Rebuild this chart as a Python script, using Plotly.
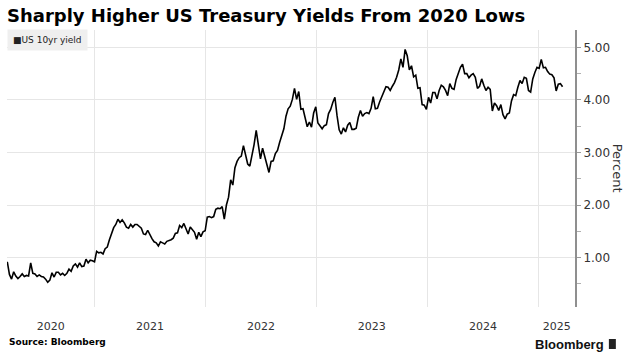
import plotly.graph_objects as go
import pandas as pd

title_text = "Sharply Higher US Treasury Yields From 2020 Lows"
series_name = "US 10yr yield"
source_text = "Source: Bloomberg"
y_title = "Percent"

# Weekly (Friday) readings, US 10-year Treasury yield, %
y2020 = [0.92, 0.68, 0.59, 0.73, 0.65, 0.60, 0.64, 0.69, 0.64, 0.66, 0.65,
         0.90, 0.70, 0.69, 0.64, 0.67, 0.64, 0.63, 0.59, 0.53, 0.57, 0.71,
         0.63, 0.72, 0.72, 0.67, 0.70, 0.66, 0.70, 0.78, 0.74, 0.84, 0.88,
         0.82, 0.90, 0.83, 0.84, 0.97, 0.90, 0.95, 0.94]
y2021 = [0.92, 1.12, 1.09, 1.10, 1.07, 1.17, 1.20, 1.34, 1.44, 1.57, 1.63,
         1.73, 1.67, 1.72, 1.66, 1.58, 1.56, 1.63, 1.58, 1.63, 1.63, 1.59,
         1.56, 1.45, 1.44, 1.52, 1.43, 1.36, 1.30, 1.28, 1.22, 1.30, 1.28,
         1.26, 1.31, 1.32, 1.34, 1.37, 1.46, 1.47, 1.61, 1.57, 1.65, 1.55,
         1.45, 1.58, 1.54, 1.48, 1.35, 1.48, 1.40, 1.49, 1.51]
y2022 = [1.77, 1.78, 1.76, 1.78, 1.92, 1.94, 1.93, 1.97, 1.73, 2.00, 2.15,
         2.48, 2.38, 2.71, 2.83, 2.90, 2.93, 3.13, 2.92, 2.78, 2.74, 2.94,
         3.15, 3.42, 3.13, 2.88, 3.08, 2.93, 2.75, 2.62, 2.83, 2.84, 2.98,
         3.04, 3.19, 3.31, 3.45, 3.69, 3.83, 3.88, 4.01, 4.22, 4.01, 4.16,
         3.82, 3.83, 3.68, 3.49, 3.58, 3.48, 3.75, 3.87]
y2023 = [3.56, 3.50, 3.45, 3.51, 3.53, 3.74, 3.82, 3.95, 4.05, 3.70, 3.43,
         3.35, 3.47, 3.39, 3.52, 3.57, 3.44, 3.44, 3.46, 3.67, 3.80, 3.69,
         3.74, 3.76, 3.74, 3.84, 4.06, 3.83, 3.84, 3.96, 4.05, 4.16, 4.25,
         4.24, 4.18, 4.26, 4.33, 4.43, 4.57, 4.78, 4.62, 4.96, 4.84, 4.57,
         4.65, 4.44, 4.47, 4.22, 4.23, 3.91, 3.90, 3.82]
y2024 = [4.05, 3.94, 4.14, 4.14, 4.02, 4.18, 4.28, 4.25, 4.18, 4.08, 4.31,
         4.22, 4.20, 4.39, 4.52, 4.62, 4.68, 4.50, 4.50, 4.42, 4.47, 4.50,
         4.43, 4.22, 4.26, 4.40, 4.28, 4.18, 4.24, 4.20, 3.79, 3.94, 3.89,
         3.80, 3.91, 3.72, 3.64, 3.73, 3.75, 3.98, 4.10, 4.08, 4.24, 4.37,
         4.31, 4.43, 4.41, 4.18, 4.15, 4.40, 4.52, 4.62]
y2025 = [4.60, 4.77, 4.61, 4.62, 4.54, 4.49, 4.48, 4.42, 4.17, 4.30, 4.31, 4.25]

values = y2020 + y2021 + y2022 + y2023 + y2024 + y2025
dates = pd.date_range("2020-03-20", "2025-03-21", freq="W-FRI")
assert len(dates) == len(values), (len(dates), len(values))

year_labels = ["2020", "2021", "2022", "2023", "2024", "2025"]
y_ticks = [1, 2, 3, 4, 5]

x_start = pd.Timestamp("2020-03-19")
x_end = pd.Timestamp("2025-05-01")

# label each year at the centre of its visible span
label_pos = []
for lab in year_labels:
    a = max(pd.Timestamp(f"{lab}-01-01"), x_start)
    b = min(pd.Timestamp(f"{int(lab)+1}-01-01"), x_end)
    label_pos.append(a + (b - a) / 2)
year_bounds = [pd.Timestamp(f"{int(l)}-01-01") for l in year_labels[1:]]

fig = go.Figure()
fig.add_trace(go.Scatter(x=dates, y=values, mode="lines", name=series_name,
                         line=dict(color="#000000", width=1.6),
                         showlegend=False))

fig.update_layout(
    width=629, height=354,
    margin=dict(l=7, r=54, t=30, b=47),
    paper_bgcolor="white", plot_bgcolor="white",
    font=dict(family="DejaVu Sans", color="#333333"),
    title=dict(text=f"<b>{title_text}</b>", x=7/629, xanchor="left",
               y=1-16/354, yanchor="middle",
               font=dict(family="DejaVu Sans", size=18, color="#000000")),
    xaxis=dict(type="date", range=[x_start, x_end],
               tickmode="array", tickvals=label_pos, ticktext=year_labels,
               showgrid=False, zeroline=False, showline=False,
               ticks="outside", ticklen=9, tickcolor="rgba(0,0,0,0)",
               tickfont=dict(family="DejaVu Sans", size=11, color="#333333"),
               minor=dict(tickmode="array", tickvals=year_bounds, showgrid=True,
                          gridcolor="#e6e6e6", gridwidth=1, ticks="")),
    yaxis=dict(side="right", range=[0.06, 5.33],
               tickmode="array", tickvals=y_ticks,
               ticktext=[f"{v:.2f}" for v in y_ticks],
               showgrid=True, gridcolor="#e6e6e6", gridwidth=1,
               zeroline=False, showline=True, linecolor="#8f8f8f", linewidth=2,
               ticks="outside", ticklen=4, tickcolor="#9a9a9a",
               tickfont=dict(family="DejaVu Sans", size=12, color="#333333"),
               minor=dict(dtick=0.5, tick0=0, ticks="outside", ticklen=4,
                          tickcolor="#b0b0b0", showgrid=False)),
)

fig.add_annotation(text=f"■{series_name}", xref="paper", yref="paper",
                   x=0, y=1.005, xanchor="left", yanchor="top", showarrow=False,
                   bgcolor="#efefef", borderpad=5,
                   font=dict(family="DejaVu Sans", size=9, color="#222222"))
fig.add_annotation(text=y_title, xref="paper", yref="paper",
                   x=1 + 43/570, y=0.5, xanchor="center", yanchor="middle",
                   textangle=90, showarrow=False,
                   font=dict(family="DejaVu Sans", size=13, color="#333333"))
fig.add_annotation(text=f"<b>{source_text}</b>", xref="paper", yref="paper",
                   x=0, y=-35/277, xanchor="left", yanchor="middle",
                   showarrow=False,
                   font=dict(family="DejaVu Sans", size=9, color="#000000"))
fig.add_annotation(text="<b>Bloomberg</b>", xref="paper", yref="paper",
                   x=1 + 31/570, y=-37/277, xanchor="right", yanchor="middle",
                   showarrow=False,
                   font=dict(family="Liberation Sans", size=13, color="#111111"))
fig.add_shape(type="rect", xref="paper", yref="paper",
              x0=1 + 34/570, x1=1 + 41/570, y0=-42/277, y1=-32/277,
              fillcolor="#222222", line=dict(width=0))

fig.write_html("out.html")
